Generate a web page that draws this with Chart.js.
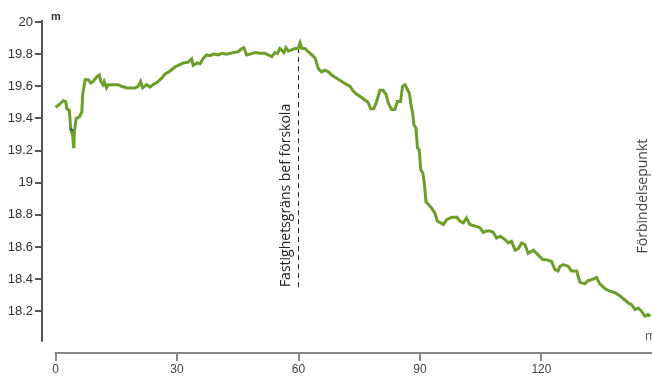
<!DOCTYPE html>
<html>
<head>
<meta charset="utf-8">
<script src="https://cdn.jsdelivr.net/npm/chart.js@4/dist/chart.umd.min.js"></script>
<style>
  body { margin: 0; background: #fff; }
</style>
</head>
<body>
<canvas id="profile" width="652" height="376"></canvas>
<script>
// Colors
var lineColor = "rgba(108, 158, 42, 1)";
var markColor = "rgba(40, 90, 140, 1)";
var axisColor = "#555";

// Tick labels
var xTicks = [0, 30, 60, 90, 120];
var yTicks = [18.2, 18.4, 18.6, 18.8, 19, 19.2, 19.4, 19.6, 19.8, 20];

// Profile data (distance in m, elevation in m)
var distance = [0, 1.1, 1.9, 2.5, 2.8, 3.4, 3.75, 4.2, 4.5, 4.65, 5.1, 5.9, 6.5, 6.7, 7.3, 8.1, 8.7, 9.3, 10.2, 10.8,
  11.2, 11.7, 12.0, 12.6, 13.0, 13.9, 15.5, 16.3, 17.6, 19.6, 20.4, 21.0, 21.5, 22.5, 23.3, 24.1, 25.1, 26.2, 27.0, 28.3,
  29.5, 30.3, 31.6, 32.8, 33.6, 34.0, 34.9, 35.7, 36.5, 37.3, 38.1, 39.0, 40.2, 41.0, 42.3, 43.9, 45.1, 46.0, 46.5, 47.2,
  48.0, 49.3, 50.5, 51.7, 52.5, 53.4, 54.2, 54.8, 55.4, 55.8, 56.4, 56.9, 57.5, 58.3, 59.1, 59.9, 60.4, 60.8, 61.6, 62.4,
  63.3, 64.1, 64.9, 65.7, 66.5, 67.4, 68.2, 69.4, 70.7, 71.9, 72.7, 73.5, 74.4, 75.6, 76.4, 77.2, 77.8, 78.6, 79.3, 80.1,
  80.9, 81.6, 82.2, 83.0, 83.8, 84.4, 85.2, 85.7, 86.3, 86.9, 87.4, 87.7, 88.2, 88.5, 89.0, 89.4, 89.8, 90.2, 90.7, 91.1,
  91.5, 92.3, 92.9, 93.7, 94.3, 95.1, 95.8, 96.6, 97.8, 99.1, 99.9, 100.7, 101.5, 102.3, 103.6, 104.8, 105.6, 106.5, 107.3, 108.1,
  108.9, 109.8, 111.0, 111.8, 112.6, 113.5, 114.3, 115.1, 115.9, 116.7, 118.0, 118.8, 119.6, 120.4, 121.3, 122.5, 123.3, 124.1, 124.6, 125.4,
  126.6, 127.4, 128.7, 129.5, 130.7, 131.5, 132.8, 133.6, 134.4, 135.7, 136.9, 138.2, 139.4, 140.6, 141.5, 142.3, 143.1, 143.9, 144.7, 145.5,
  146.3, 146.9];
var elevation = [19.47, 19.49, 19.51, 19.505, 19.46, 19.45, 19.33, 19.30, 19.215, 19.32, 19.40, 19.41, 19.44, 19.55, 19.64, 19.64, 19.62, 19.63, 19.66, 19.67,
  19.63, 19.61, 19.63, 19.59, 19.61, 19.61, 19.61, 19.60, 19.59, 19.59, 19.60, 19.63, 19.59, 19.61, 19.595, 19.61, 19.625, 19.65, 19.675, 19.695,
  19.72, 19.73, 19.745, 19.75, 19.77, 19.73, 19.745, 19.74, 19.775, 19.795, 19.79, 19.80, 19.795, 19.805, 19.80, 19.81, 19.815, 19.835, 19.84, 19.795,
  19.80, 19.81, 19.805, 19.805, 19.795, 19.785, 19.81, 19.805, 19.835, 19.826, 19.81, 19.84, 19.82, 19.826, 19.835, 19.835, 19.87, 19.835, 19.835, 19.815,
  19.795, 19.775, 19.71, 19.69, 19.70, 19.69, 19.67, 19.65, 19.63, 19.61, 19.60, 19.57, 19.55, 19.53, 19.515, 19.50, 19.46, 19.46, 19.505, 19.575,
  19.575, 19.55, 19.495, 19.455, 19.455, 19.505, 19.505, 19.60, 19.61, 19.58, 19.555, 19.495, 19.43, 19.36, 19.34, 19.215, 19.205, 19.08, 19.06, 18.99,
  18.88, 18.86, 18.84, 18.81, 18.76, 18.75, 18.74, 18.77, 18.785, 18.785, 18.76, 18.75, 18.78, 18.74, 18.73, 18.72, 18.69, 18.70, 18.70, 18.69,
  18.655, 18.667, 18.646, 18.625, 18.635, 18.58, 18.59, 18.625, 18.615, 18.56, 18.58, 18.56, 18.54, 18.52, 18.52, 18.51, 18.46, 18.45, 18.48, 18.49,
  18.48, 18.45, 18.45, 18.38, 18.37, 18.39, 18.40, 18.41, 18.37, 18.34, 18.325, 18.315, 18.295, 18.27, 18.25, 18.24, 18.21, 18.22, 18.20, 18.17,
  18.18, 18.17];

// Small blue mark near the start
var markDistance = [3.55, 4.3];
var markElevation = [19.335, 19.325];

// Property boundary marker
var boundaryDistance = [60, 60];
var boundaryElevation = [18.35, 19.83];
var boundaryLabel = "Fastighetsgräns bef förskola";
var connectionLabel = "Förbindelsepunkt";
var connectionElevation = 18.56;
var unitLabel = "m";

function toPoints(xs, ys) {
  return xs.map(function (x, i) { return { x: x, y: ys[i] }; });
}

function useTicks(values) {
  return function (s) {
    s.ticks = values.map(function (v) { return { value: v }; });
  };
}

// Axis lines and texts
var profileLabels = {
  id: 'profileLabels',
  afterDraw: function (chart) {
    var ctx = chart.ctx;
    var xs = chart.scales.x;
    var ys = chart.scales.y;
    var area = chart.chartArea;
    ctx.save();

    // y axis line
    ctx.strokeStyle = axisColor;
    ctx.lineWidth = 2;
    ctx.beginPath();
    ctx.moveTo(area.left - 1, ys.getPixelForValue(20) - 2);
    ctx.lineTo(area.left - 1, ys.getPixelForValue(18.01));
    ctx.stroke();

    // x axis line
    ctx.strokeStyle = "#888";
    ctx.beginPath();
    ctx.moveTo(xs.getPixelForValue(0) - 1, area.bottom);
    ctx.lineTo(chart.width, area.bottom);
    ctx.stroke();

    // unit labels
    ctx.fillStyle = "#333";
    ctx.font = 'bold 11px "Liberation Sans", Arial, sans-serif';
    ctx.textAlign = 'left';
    ctx.textBaseline = 'middle';
    ctx.fillText(unitLabel, area.left + 8, ys.getPixelForValue(20) - 5);
    ctx.fillStyle = "#555";
    ctx.font = '12px "Open Sans", sans-serif';
    ctx.fillText(unitLabel, chart.width - 7, area.bottom - 16);

    // rotated labels
    ctx.fillStyle = "#222";
    ctx.font = '14px "Open Sans", sans-serif';
    ctx.save();
    ctx.translate(xs.getPixelForValue(60) - 12, ys.getPixelForValue(18.35));
    ctx.rotate(-Math.PI / 2);
    ctx.fillText(boundaryLabel, 0, 0);
    ctx.restore();

    ctx.fillStyle = "#444";
    ctx.save();
    ctx.translate(chart.width - 9, ys.getPixelForValue(connectionElevation));
    ctx.rotate(-Math.PI / 2);
    ctx.fillText(connectionLabel, 0, 0);
    ctx.restore();

    ctx.restore();
  }
};

var profileChart = new Chart(document.getElementById('profile'), {
  type: 'line',
  data: {
    datasets: [
      {
        data: toPoints(markDistance, markElevation),
        borderColor: markColor,
        borderWidth: 2,
        pointRadius: 0,
        order: 0
      },
      {
        data: toPoints(distance, elevation),
        borderColor: lineColor,
        borderWidth: 3,
        pointRadius: 0,
        lineTension: 0,
        order: 1
      },
      {
        data: toPoints(boundaryDistance, boundaryElevation),
        borderColor: "#222",
        borderWidth: 1,
        borderDash: [5, 4],
        pointRadius: 0,
        order: 2
      }
    ]
  },
  options: {
    responsive: false,
    animation: false,
    layout: { padding: { top: 22, right: 0, bottom: 0, left: 0 } },
    plugins: {
      legend: { display: false },
      tooltip: { enabled: false }
    },
    scales: {
      x: {
        type: 'linear',
        min: -3.1,
        max: 147.3,
        afterFit: function (s) { s.height = 23; },
        afterBuildTicks: useTicks(xTicks),
        border: { display: false },
        grid: { drawOnChartArea: false, drawTicks: true, tickLength: 8, color: "#888", lineWidth: 2 },
        ticks: {
          padding: 1,
          maxRotation: 0,
          color: "#444",
          font: { family: '"Liberation Sans", Arial, sans-serif', size: 12 },
          callback: function (v) { return String(v); }
        }
      },
      y: {
        min: 17.94,
        max: 20,
        afterFit: function (s) { s.width = 43; },
        afterBuildTicks: useTicks(yTicks),
        border: { display: false },
        grid: { drawOnChartArea: false, drawTicks: true, tickLength: 8, color: axisColor, lineWidth: 2 },
        ticks: {
          padding: 2,
          color: "#333",
          font: { family: '"Liberation Sans", Arial, sans-serif', size: 13 },
          callback: function (v) { return String(Math.round(v * 10) / 10); }
        }
      }
    }
  },
  plugins: [profileLabels]
});
</script>
</body>
</html>
